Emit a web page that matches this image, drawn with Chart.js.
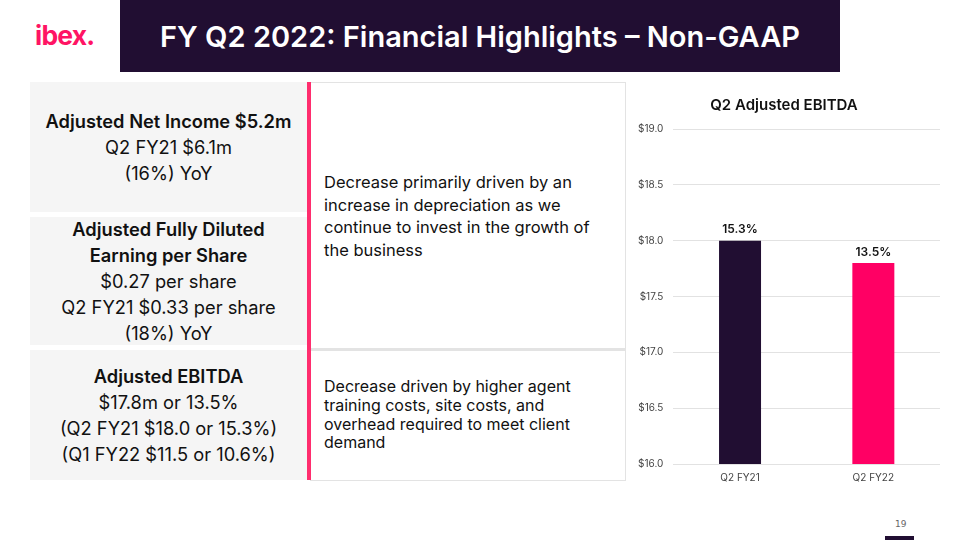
<!DOCTYPE html>
<html>
<head>
<meta charset="utf-8">
<script src="https://cdn.jsdelivr.net/npm/chart.js@4.4.1/dist/chart.umd.min.js"></script>
<style>
  html, body { margin:0; padding:0; background:#fff; }
  body { width:960px; height:540px; position:relative; overflow:hidden; font-family:"Inter","Noto Sans",sans-serif; color:#111; }
  .abs { position:absolute; }
  #logo { left:35px; top:19px; font-family:"Inter",sans-serif; font-weight:700; font-size:26.5px; color:#ff1464; letter-spacing:-0.8px; }
  #header { left:120px; top:0; width:720px; height:72px; background:#210e32; color:#fff; font-family:"Inter",sans-serif; font-weight:600; font-size:29px; display:flex; align-items:center; justify-content:center; }
  .gray { background:#f5f5f5; left:30px; width:277px; text-align:center; font-size:18.3px; line-height:26px; display:flex; flex-direction:column; justify-content:center; white-space:nowrap; }
  .gray b { font-weight:600; }
  #pink { left:307px; top:82px; width:4px; height:398px; background:#ff2d6e; }
  #rbox { left:310px; top:82px; width:315px; height:397px; border:1px solid #e3e3e3; border-left:none; }
  #sep { left:311px; top:348px; width:315px; height:3px; background:#e3e3e3; }
  .rtext { left:324px; width:295px; white-space:nowrap; }
  #pg { left:895px; top:519px; font-size:9px; color:#666; font-family:"DejaVu Sans",sans-serif; }
  #pgbar { left:885px; top:536px; width:29px; height:4px; background:#210e32; }
  #chartWrap { left:628px; top:85px; width:325px; height:399px; }
</style>
</head>
<body>
<div id="logo" class="abs">ibex.</div>
<div id="header" class="abs">FY Q2 2022: Financial Highlights – Non-GAAP</div>

<div class="abs gray" style="top:82px;height:130px;"><b>Adjusted Net Income $5.2m</b><span>Q2 FY21 $6.1m</span><span>(16%) YoY</span></div>
<div class="abs gray" style="top:217px;height:128px;"><b>Adjusted Fully Diluted</b><b>Earning per Share</b><span>$0.27 per share</span><span>Q2 FY21 $0.33 per share</span><span>(18%) YoY</span></div>
<div class="abs gray" style="top:350px;height:130px;"><b>Adjusted EBITDA</b><span>$17.8m or 13.5%</span><span>(Q2 FY21 $18.0 or 15.3%)</span><span>(Q1 FY22 $11.5 or 10.6%)</span></div>

<div id="rbox" class="abs"></div>
<div id="sep" class="abs"></div>
<div id="pink" class="abs"></div>
<div class="abs rtext" style="top:171px;font-size:16.5px;line-height:22.7px;">Decrease primarily driven by an<br>increase in depreciation as we<br>continue to invest in the growth of<br>the business</div>
<div class="abs rtext" style="top:377px;font-size:16px;line-height:18.8px;">Decrease driven by higher agent<br>training costs, site costs, and<br>overhead required to meet client<br>demand</div>

<div id="chartWrap" class="abs"><canvas id="c" width="325" height="399"></canvas></div>
<div id="pg" class="abs">19</div>
<div id="pgbar" class="abs"></div>

<script>
const categories = ["Q2 FY21", "Q2 FY22"];
const ebitdaValues = [18.0, 17.8];
const marginLabels = ["15.3%", "13.5%"];
const barColors = ["#210e32", "#ff0064"];

const valueLabels = {
  id: "valueLabels",
  afterDatasetsDraw(chart) {
    const ctx = chart.ctx;
    const meta = chart.getDatasetMeta(0);
    ctx.save();
    ctx.font = "600 12px Inter, sans-serif";
    ctx.fillStyle = "#111";
    ctx.textAlign = "center";
    ctx.textBaseline = "bottom";
    meta.data.forEach((bar, i) => {
      ctx.fillText(marginLabels[i], bar.x, bar.y - 5);
    });
    ctx.restore();
  }
};

new Chart(document.getElementById("c"), {
  type: "bar",
  data: {
    labels: categories,
    datasets: [{
      data: ebitdaValues,
      backgroundColor: barColors,
      barPercentage: 0.315,
      categoryPercentage: 1.0
    }]
  },
  options: {
    responsive: false,
    animation: false,
    devicePixelRatio: 1,
    layout: { padding: { left: 0, right: 13, top: 0, bottom: 0 } },
    plugins: {
      legend: { display: false },
      tooltip: { enabled: false },
      title: {
        display: true,
        text: "Q2 Adjusted EBITDA",
        color: "#111",
        font: { family: "Inter, sans-serif", size: 15, weight: "600" },
        padding: { top: 11, bottom: 15 }
      }
    },
    scales: {
      x: {
        grid: { display: false },
        border: { display: false },
        ticks: { color: "#444", font: { family: "Inter, sans-serif", size: 10 }, padding: 0 }
      },
      y: {
        min: 16, max: 19,
        ticks: {
          stepSize: 0.5,
          color: "#444",
          font: { family: "Inter, sans-serif", size: 10 },
          padding: 10,
          callback: v => "$" + v.toFixed(1)
        },
        grid: { color: "#e2e2e2", drawTicks: false },
        border: { display: false }
      }
    }
  },
  plugins: [valueLabels]
});
</script>
</body>
</html>
